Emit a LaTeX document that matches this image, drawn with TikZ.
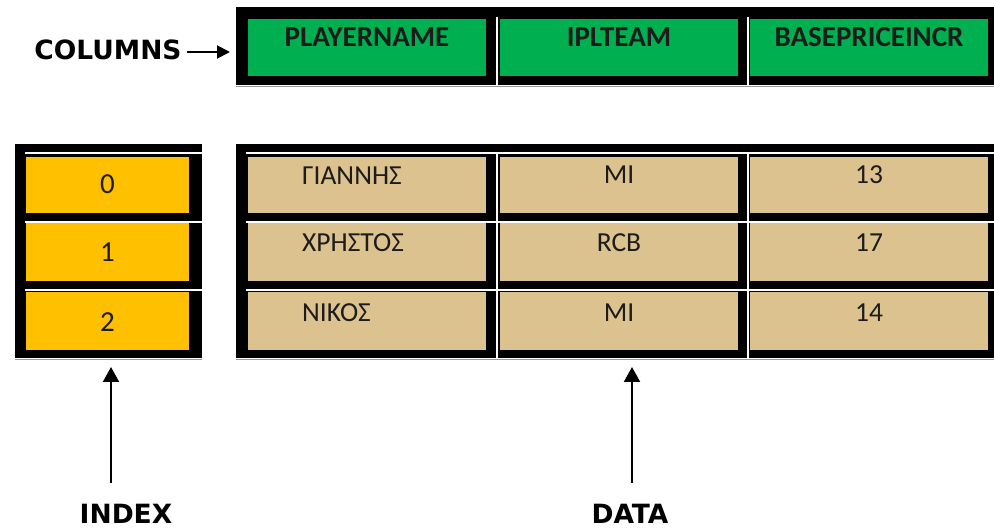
\documentclass[tikz,border=0pt]{standalone}
\usepackage{fontspec}
\setmainfont{Carlito}
\newfontfamily\labfont{DejaVu Sans}
\usetikzlibrary{arrows.meta,calc}
\definecolor{xlgreen}{HTML}{00B050}
\definecolor{xlorange}{HTML}{FFC000}
\definecolor{xltan}{HTML}{DCC28E}
\definecolor{txtdark}{HTML}{1C1C1C}
\definecolor{rulegray}{HTML}{9A9A9A}
\begin{document}
\begin{tikzpicture}[x=1pt,y=-1pt,
  blackbox/.style={fill=black,draw=none,inner sep=0pt,outer sep=0pt},
  cellbase/.style={draw=none,inner sep=0pt,outer sep=0pt,minimum width=238pt},
  hcell/.style={cellbase,fill=xlgreen,minimum height=57pt},
  dcell/.style={cellbase,fill=xltan},
  icell/.style={draw=none,inner sep=0pt,outer sep=0pt,fill=xlorange,minimum width=163pt},
  itext/.style={anchor=base,inner sep=0pt,font=\fontsize{29}{32}\selectfont,text=txtdark},
  htext/.style={anchor=base,inner sep=0pt,font=\bfseries\fontsize{29}{32}\selectfont,text=txtdark},
  dtext/.style={anchor=base,inner sep=0pt,font=\fontsize{27.5}{31}\selectfont,text=txtdark},
  dtextl/.style={dtext,anchor=base west},
  biglabel/.style={anchor=base,inner sep=0pt,text depth=0pt,font=\labfont\bfseries\fontsize{26.5}{30}\selectfont},
  sepline/.style={white,line width=1.2pt},
  grayline/.style={rulegray,line width=1pt},
  pointer/.style={line width=2pt,-{Triangle[length=15pt,width=16pt]}},
  sidepointer/.style={line width=2pt,-{Triangle[length=13pt,width=13pt]}}
]
\useasboundingbox (0,0) rectangle (994,529);

% black frames
\node[blackbox,minimum width=758pt,minimum height=78pt] (hdrbox) at (615,46) {};
\node[blackbox,minimum width=187pt,minimum height=214pt] (idxbox) at (108.5,251) {};
\node[blackbox,minimum width=758pt,minimum height=214pt] (datbox) at (615,251) {};

% gray rules under the frames
\draw[grayline] (hdrbox.south west) ++(0,1.5) -- ++(758,0);
\draw[grayline] (idxbox.south west) ++(0,2) -- ++(187,0);
\draw[grayline] (datbox.south west) ++(0,2) -- ++(758,0);

% thin white separators
\draw[sepline] (497,17) -- (497,85);
\draw[sepline] (748,17) -- (748,85);
\foreach \yy in {153,222,290} {
  \draw[sepline] (25,\yy) -- (202,\yy);
  \draw[sepline] (246,\yy) -- (994,\yy);
}
\draw[sepline] (25,358.5) -- (202,358.5);
\draw[sepline] (246,358.5) -- (994,358.5);
\draw[sepline] (497,153) -- (497,359);
\draw[sepline] (748,153) -- (748,359);

% header cells
\node[hcell] (h1) at (367,47.5) {};
\node[hcell] (h2) at (619,47.5) {};
\node[hcell] (h3) at (869,47.5) {};
\node[htext] (h1t) at ($(h1.north)+(0,28)$) {PLAYERNAME};
\node[htext] (h2t) at ($(h2.north)+(0,28)$) {IPLTEAM};
\node[htext] (h3t) at ($(h3.north)+(0,28)$) {BASEPRICEINCR};

% index cells
\node[icell,minimum height=56pt] (i0) at (107.5,185) {};
\node[icell,minimum height=58pt] (i1) at (107.5,252) {};
\node[icell,minimum height=58pt] (i2) at (107.5,321) {};
\node[itext] (i0t) at ($(i0.north)+(0,37)$) {0};
\node[itext] (i1t) at ($(i1.north)+(0,39)$) {1};
\node[itext] (i2t) at ($(i2.north)+(0,40)$) {2};

% data cells
\node[dcell,minimum height=56pt] (d01) at (367,185) {};
\node[dcell,minimum height=56pt] (d02) at (619,185) {};
\node[dcell,minimum height=56pt] (d03) at (869,185) {};
\node[dcell,minimum height=58pt] (d11) at (367,252) {};
\node[dcell,minimum height=58pt] (d12) at (619,252) {};
\node[dcell,minimum height=58pt] (d13) at (869,252) {};
\node[dcell,minimum height=58pt] (d21) at (367,321) {};
\node[dcell,minimum height=58pt] (d22) at (619,321) {};
\node[dcell,minimum height=58pt] (d23) at (869,321) {};

\node[dtextl] (t01) at ($(d01.north west)+(54,28)$) {ΓΙΑΝΝΗΣ};
\node[dtext]  (t02) at ($(d02.north)+(0,27)$) {MI};
\node[dtext]  (t03) at ($(d03.north)+(0,27)$) {13};
\node[dtextl] (t11) at ($(d11.north west)+(54,29)$) {ΧΡΗΣΤΟΣ};
\node[dtext]  (t12) at ($(d12.north)+(0,29)$) {RCB};
\node[dtext]  (t13) at ($(d13.north)+(0,29)$) {17};
\node[dtextl] (t21) at ($(d21.north west)+(54,30)$) {ΝΙΚΟΣ};
\node[dtext]  (t22) at ($(d22.north)+(0,30)$) {MI};
\node[dtext]  (t23) at ($(d23.north)+(0,30)$) {14};

% labels
\node[biglabel] (collab) at (108,60) {COLUMNS};
\node[biglabel] (idxlab) at (126,523) {INDEX};
\node[biglabel] (datlab) at (630,523) {DATA};

% pointers
\coordinate (ca) at ($(collab.east)+(5,0)$);
\draw[sidepointer,shorten >=6pt] (ca |- 0,52) -- (hdrbox.west |- 0,52);
\coordinate (ia) at (111,483);
\coordinate (da) at (632,483);
\draw[pointer] (ia) -- ($(ia |- idxbox.south)+(0,9)$);
\draw[pointer] (da) -- ($(da |- datbox.south)+(0,9)$);
\end{tikzpicture}
\end{document}
